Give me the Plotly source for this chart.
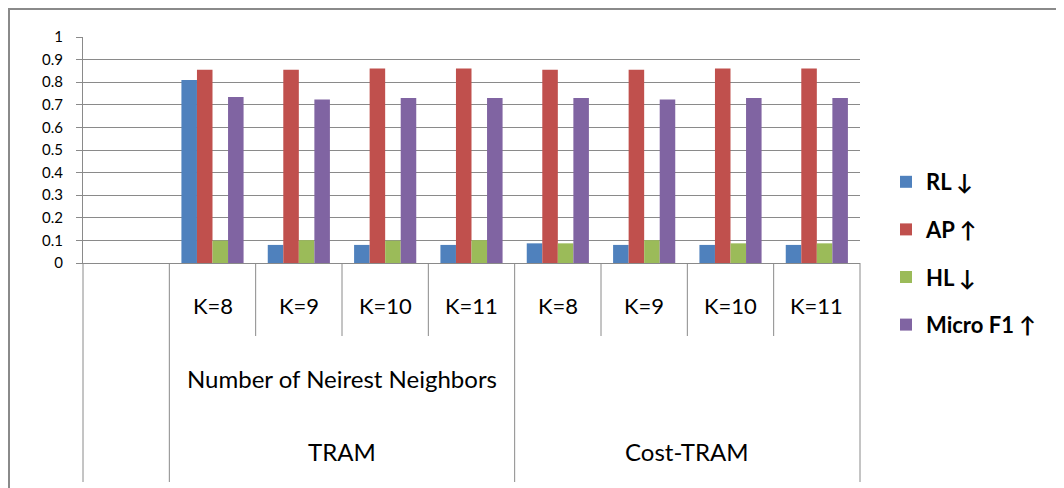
import plotly.graph_objects as go

# ---- data ----
groups = ["TRAM", "TRAM", "TRAM", "TRAM", "Cost-TRAM", "Cost-TRAM", "Cost-TRAM", "Cost-TRAM"]
k_labels = ["K=8", "K=9", "K=10", "K=11", "K=8", "K=9", "K=10", "K=11"]
mid_labels = {"TRAM": "Number of Neirest Neighbors", "Cost-TRAM": ""}
series_names = ["RL \u2193", "AP \u2191", "HL \u2193", "Micro F1 \u2191"]
rl = [0.81, 0.08, 0.08, 0.08, 0.087, 0.08, 0.08, 0.08]
ap = [0.855, 0.855, 0.861, 0.861, 0.855, 0.855, 0.861, 0.861]
hl = [0.099, 0.101, 0.099, 0.101, 0.087, 0.101, 0.087, 0.087]
micro_f1 = [0.735, 0.724, 0.73, 0.73, 0.73, 0.724, 0.73, 0.73]
colors = ["#4F81BD", "#C0504D", "#9BBB59", "#8064A2"]

blank = "__blank__"
cats = [g + " " + k for g, k in zip(groups, k_labels)]
all_cats = [blank] + cats
n = len(all_cats)

GRAY = "#8a8a8a"
FONT = "Lato"

fig = go.Figure()
for i, (name, vals) in enumerate(zip(series_names, [rl, ap, hl, micro_f1])):
    fig.add_trace(go.Bar(
        x=cats, y=vals, name=name, marker=dict(color=colors[i], line=dict(width=0)),
        legendgroup=name,
    ))

# page offset (browser body margin) and plot area geometry in page px
OFF = 8
W, H = 1064 - OFF, 488 - OFF
PL, PR, PT, PB = 83, 860, 37, 263  # plot area on the page
L, T = PL - OFF, PT - OFF
R, B = W - (PR - OFF), H - (PB - OFF)
pw, ph = PR - PL, PB - PT

def py(p):  # page pixel y -> paper y
    return (PB - p) / ph

def px(p):  # page pixel x -> paper x
    return (p - PL) / pw

annotations = []
shapes = []

# level-1 labels (K values)
for c, k in zip(cats, k_labels):
    annotations.append(dict(x=c, xref="x", y=py(305), yref="paper", text=k,
                            showarrow=False, font=dict(family=FONT, size=22, color="black"),
                            yanchor="middle"))

# group labels
ordered_groups = []
for g in groups:
    if g not in ordered_groups:
        ordered_groups.append(g)
for g in ordered_groups:
    idx = [all_cats.index(c) for c, gg in zip(cats, groups) if gg == g]
    center = sum(idx) / len(idx)
    if mid_labels[g]:
        annotations.append(dict(x=center, xref="x", y=py(378), yref="paper", text=mid_labels[g],
                                showarrow=False, font=dict(family=FONT, size=24, color="black"),
                                yanchor="middle"))
    annotations.append(dict(x=center, xref="x", y=py(451), yref="paper", text=g,
                            showarrow=False, font=dict(family=FONT, size=24, color="black"),
                            yanchor="middle"))

# table separator lines
full_b = [0, 1]
prev = None
for i, g in enumerate(groups):
    if prev is not None and g != prev:
        full_b.append(i + 1)
    prev = g
full_b.append(n)
for b in range(n + 1):
    y1 = py(482) if b in full_b else py(336)
    shapes.append(dict(type="line", xref="paper", yref="paper", x0=b / n, x1=b / n,
                       y0=0, y1=y1, line=dict(color=GRAY, width=1)))

# outer frame (left and top edges)
shapes.append(dict(type="line", xref="paper", yref="paper", x0=px(9), x1=px(9),
                   y0=py(9), y1=py(490), line=dict(color=GRAY, width=2)))
shapes.append(dict(type="line", xref="paper", yref="paper", x0=px(8), x1=px(1066),
                   y0=py(9), y1=py(9), line=dict(color=GRAY, width=2)))

fig.update_layout(
    width=W, height=H,
    margin=dict(l=L, r=R, t=T, b=B, pad=0),
    paper_bgcolor="white", plot_bgcolor="white",
    barmode="group", bargap=0.28, bargroupgap=0,
    font=dict(family=FONT, color="black"),
    xaxis=dict(type="category", categoryorder="array", categoryarray=all_cats,
               range=[-0.5, n - 0.5], showticklabels=False, showgrid=False,
               showline=True, linecolor=GRAY, linewidth=1, ticks="", zeroline=False,
               fixedrange=True),
    yaxis=dict(range=[0, 1], dtick=0.1, tick0=0, showgrid=True, gridcolor=GRAY, gridwidth=1,
               showline=True, linecolor=GRAY, linewidth=1, ticks="outside", ticklen=6,
               tickcolor=GRAY, tickfont=dict(family=FONT, size=15, color="black"),
               ticklabelstandoff=10, zeroline=False),
    legend=dict(x=px(886), xanchor="left", y=py(161), yanchor="top",
                font=dict(family=FONT, size=22, color="black", weight="bold"),
                traceorder="grouped", tracegroupgap=16, bgcolor="rgba(0,0,0,0)"),
    annotations=annotations,
    shapes=shapes,
)

fig.write_html("out.html")
